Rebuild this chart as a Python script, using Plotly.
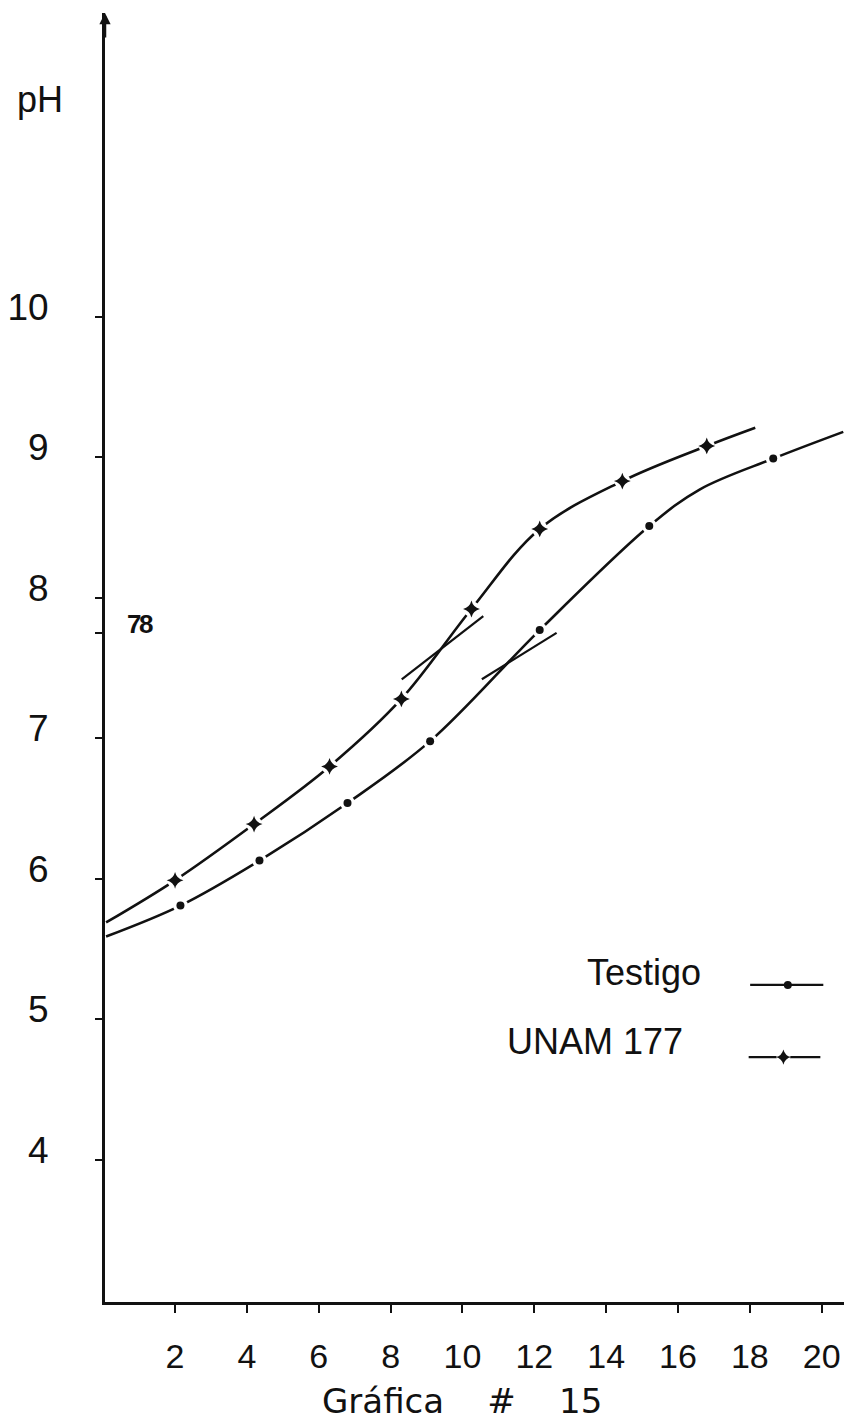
import plotly.graph_objects as go

# ---- data -------------------------------------------------------------
# Testigo: measured points (double-dot marks) and readings along the drawn curve
testigo_x = [2.15, 4.35, 6.8, 9.1, 12.15, 15.2, 18.65]
testigo_ph = [5.81, 6.13, 6.54, 6.98, 7.77, 8.51, 8.99]
testigo_curve_x = [0.08, 2.15, 4.35, 6.8, 9.1, 12.15, 15.2, 16.6, 18.65, 20.6]
testigo_curve_ph = [5.59, 5.81, 6.13, 6.54, 6.98, 7.77, 8.51, 8.77, 8.99, 9.18]

# UNAM 177: measured points (cross marks) and readings along the drawn curve
unam_x = [2.0, 4.2, 6.3, 8.3, 10.25, 12.15, 14.45, 16.8]
unam_ph = [5.99, 6.39, 6.80, 7.28, 7.92, 8.49, 8.83, 9.08]
unam_curve_x = [0.08, 2.0, 4.2, 6.3, 8.3, 10.25, 12.15, 14.45, 16.8, 18.15]
unam_curve_ph = [5.69, 5.99, 6.39, 6.80, 7.28, 7.92, 8.49, 8.83, 9.08, 9.21]

# tangent construction lines at the inflection of each curve
unam_tangent_x = [8.31, 10.58]
unam_tangent_ph = [7.42, 7.87]
testigo_tangent_x = [10.54, 12.62]
testigo_tangent_ph = [7.42, 7.75]

# axis ticks
x_ticks = [2, 4, 6, 8, 10, 12, 14, 16, 18, 20]
y_ticks = [4, 5, 6, 7, 7.75, 8, 9, 10]
y_tick_text = ["4", "5", "6", "7", "", "8", "9", "10"]

# ---- styling ------------------------------------------------------------
INK = "#111111"
LINE_W = 2.6
TEXT_FONT = "Liberation Sans, Arial, sans-serif"
NBSP = "\u00a0"

fig = go.Figure()

# tangent lines
for tx, ty in [(unam_tangent_x, unam_tangent_ph), (testigo_tangent_x, testigo_tangent_ph)]:
    fig.add_trace(go.Scatter(x=tx, y=ty, mode="lines",
                             line=dict(color=INK, width=2.2), showlegend=False,
                             hoverinfo="skip"))

# smooth curves
fig.add_trace(go.Scatter(x=testigo_curve_x, y=testigo_curve_ph, mode="lines",
                         line=dict(color=INK, width=LINE_W, shape="spline", smoothing=1.0),
                         name="Testigo", showlegend=False))
fig.add_trace(go.Scatter(x=unam_curve_x, y=unam_curve_ph, mode="lines",
                         line=dict(color=INK, width=LINE_W, shape="spline", smoothing=1.0),
                         name="UNAM 177", showlegend=False))

# white halo so the pen line breaks around each mark
fig.add_trace(go.Scatter(x=testigo_x, y=testigo_ph, mode="markers",
                         marker=dict(symbol="circle", size=15, color="white"),
                         showlegend=False, hoverinfo="skip"))
fig.add_trace(go.Scatter(x=unam_x, y=unam_ph, mode="markers",
                         marker=dict(symbol="circle", size=16, color="white"),
                         showlegend=False, hoverinfo="skip"))

# marks
fig.add_trace(go.Scatter(x=testigo_x, y=testigo_ph, mode="markers",
                         marker=dict(symbol="circle", size=8, color=INK),
                         name="Testigo", showlegend=False))
fig.add_trace(go.Scatter(x=unam_x, y=unam_ph, mode="markers",
                         marker=dict(symbol="star-diamond", size=12, color=INK),
                         name="UNAM 177", showlegend=False))

# ---- hand-made key on an overlay axis (0..1 of the plot area) -----------
key_testigo = dict(x0=0.873, x1=0.972, y=0.246, mark=0.924)
key_unam = dict(x0=0.871, x1=0.968, y=0.190, mark=0.918)

fig.add_trace(go.Scatter(x=[key_testigo["x0"], key_testigo["x1"]],
                         y=[key_testigo["y"], key_testigo["y"]], mode="lines",
                         line=dict(color=INK, width=2.2), xaxis="x2", yaxis="y2",
                         showlegend=False, hoverinfo="skip"))
fig.add_trace(go.Scatter(x=[key_testigo["mark"]], y=[key_testigo["y"]], mode="markers",
                         marker=dict(symbol="circle", size=8, color=INK),
                         xaxis="x2", yaxis="y2", showlegend=False, hoverinfo="skip"))
fig.add_trace(go.Scatter(x=[key_unam["x0"], key_unam["x1"]],
                         y=[key_unam["y"], key_unam["y"]], mode="lines",
                         line=dict(color=INK, width=2.2),
                         xaxis="x2", yaxis="y2", showlegend=False, hoverinfo="skip"))
fig.add_trace(go.Scatter(x=[key_unam["mark"]], y=[key_unam["y"]], mode="markers",
                         marker=dict(symbol="circle", size=14, color="white"),
                         xaxis="x2", yaxis="y2", showlegend=False, hoverinfo="skip"))
fig.add_trace(go.Scatter(x=[key_unam["mark"]], y=[key_unam["y"]], mode="markers",
                         marker=dict(symbol="star-diamond", size=11, color=INK),
                         xaxis="x2", yaxis="y2", showlegend=False, hoverinfo="skip"))

annotations = [
    # axis name
    dict(text="pH", xref="paper", yref="paper", x=-0.088, y=0.933,
         xanchor="center", yanchor="middle", showarrow=False,
         font=dict(family=TEXT_FONT, size=36, color=INK)),
    # value noted beside the axis
    dict(text="<b>7</b>", xref="x", yref="y", x=0.85, y=7.81, showarrow=False,
         xanchor="center", yanchor="middle",
         font=dict(family=TEXT_FONT, size=26, color=INK)),
    dict(text="<b>8</b>", xref="x", yref="y", x=1.2, y=7.81, showarrow=False,
         xanchor="center", yanchor="middle",
         font=dict(family=TEXT_FONT, size=26, color=INK)),
    # key text
    dict(text="Testigo", xref="paper", yref="paper", x=0.809, y=0.256,
         xanchor="right", yanchor="middle", showarrow=False,
         font=dict(family=TEXT_FONT, size=36, color=INK)),
    dict(text="UNAM 177", xref="paper", yref="paper", x=0.785, y=0.202,
         xanchor="right", yanchor="middle", showarrow=False,
         font=dict(family=TEXT_FONT, size=36, color=INK)),
    # caption
    dict(text="Gráfica" + NBSP * 4 + "#" + NBSP * 4 + "15", xref="paper", yref="paper",
         x=0.483, y=-0.0768, xanchor="center", yanchor="middle", showarrow=False,
         font=dict(family="DejaVu Sans, sans-serif", size=34, color=INK)),
    # arrow tip on the pH axis
    dict(xref="x", yref="y", x=0.05, y=12.16, ax=0, ay=26, text="",
         showarrow=True, arrowhead=2, arrowsize=0.9, arrowwidth=2.5, arrowcolor=INK),
]

fig.update_layout(
    width=844, height=1426,
    margin=dict(l=105, r=0, t=13, b=124),
    paper_bgcolor="white", plot_bgcolor="white",
    annotations=annotations,
    xaxis=dict(range=[0.05, 20.62], tickvals=x_ticks, ticktext=[str(v) for v in x_ticks],
               showgrid=False, zeroline=False, showline=True, linecolor=INK, linewidth=3,
               ticks="outside", ticklen=8, tickwidth=2, tickcolor=INK,
               ticklabelstandoff=14,
               tickfont=dict(family=TEXT_FONT, size=34, color=INK)),
    yaxis=dict(range=[2.99, 12.16], tickvals=y_ticks, ticktext=y_tick_text,
               showgrid=False, zeroline=False, showline=True, linecolor=INK, linewidth=3,
               ticks="outside", ticklen=7, tickwidth=2, tickcolor=INK,
               ticklabelstandoff=39, ticklabelshift=-10,
               tickfont=dict(family=TEXT_FONT, size=37, color=INK)),
    xaxis2=dict(overlaying="x", range=[0, 1], visible=False, fixedrange=True),
    yaxis2=dict(overlaying="y", range=[0, 1], visible=False, fixedrange=True),
    showlegend=False,
)

fig.write_html("out.html")
